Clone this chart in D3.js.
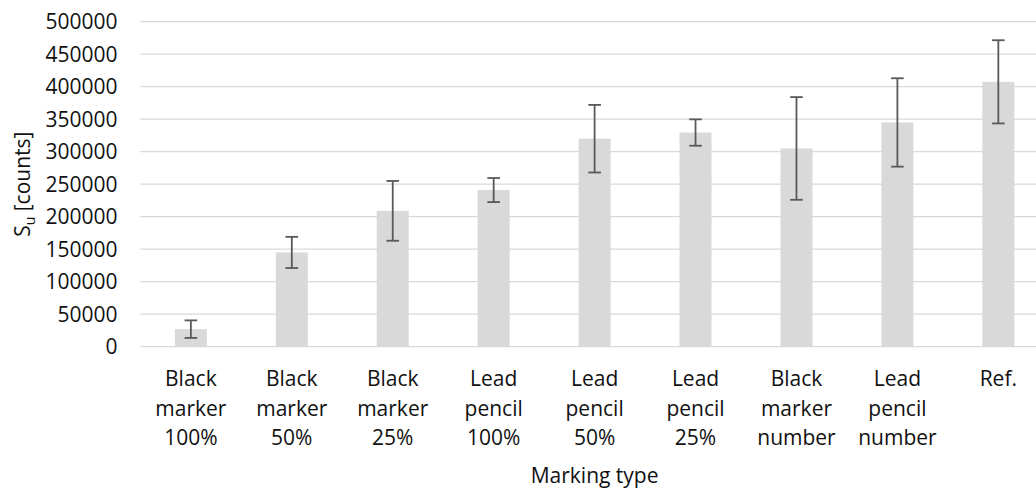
<!DOCTYPE html>
<html>
<head>
<meta charset="utf-8">
<script src="https://cdn.jsdelivr.net/npm/d3@7"></script>
<style>
  html, body { margin: 0; padding: 0; background: #fff; }
  svg { display: block; font-family: "Open Sans", sans-serif; }
</style>
</head>
<body>
<svg id="chart" width="1036" height="488"></svg>
<script>
// Marking types shown along the x axis (each label split into lines)
const categories = [
  "Black marker 100%", "Black marker 50%", "Black marker 25%",
  "Lead pencil 100%", "Lead pencil 50%", "Lead pencil 25%",
  "Black marker number", "Lead pencil number", "Ref."
];
const categoryLines = [
  ["Black", "marker", "100%"], ["Black", "marker", "50%"], ["Black", "marker", "25%"],
  ["Lead", "pencil", "100%"], ["Lead", "pencil", "50%"], ["Lead", "pencil", "25%"],
  ["Black", "marker", "number"], ["Lead", "pencil", "number"], ["Ref."]
];
// Mean signal S_u per marking type [counts]
const meanValues = [27000, 145000, 209000, 241000, 320000, 329500, 305000, 345000, 407500];
// Error (± one standard deviation) per marking type [counts]
const errorValues = [13500, 24000, 46000, 18500, 52000, 20300, 79000, 68000, 64000];
// Y axis tick values
const yTicks = [0, 50000, 100000, 150000, 200000, 250000, 300000, 350000, 400000, 450000, 500000];

const svg = d3.select("#chart");
const W = 1036, H = 488;
const plot = { left: 140.4, right: 1048.8, top: 21.7, bottom: 346.7 };

svg.append("rect").attr("width", W).attr("height", H).attr("fill", "#fff");

const x = d3.scaleBand()
  .domain(categories)
  .range([plot.left, plot.right])
  .paddingInner(0.683)
  .paddingOuter(0.3415);

const y = d3.scaleLinear()
  .domain([0, 500000])
  .range([plot.bottom, plot.top]);

const data = categories.map((c, i) => ({
  cat: c, lines: categoryLines[i], mean: meanValues[i], err: errorValues[i]
}));

// Horizontal gridlines
svg.append("g")
  .selectAll("line")
  .data(yTicks)
  .join("line")
  .attr("x1", plot.left)
  .attr("x2", plot.right)
  .attr("y1", d => y(d))
  .attr("y2", d => y(d))
  .attr("stroke", "#d9d9d9")
  .attr("stroke-width", 1.3);

// Y tick labels
svg.append("g")
  .selectAll("text")
  .data(yTicks)
  .join("text")
  .attr("x", 117.5)
  .attr("y", d => y(d))
  .attr("dy", "0.36em")
  .attr("text-anchor", "end")
  .attr("font-size", 21)
  .attr("fill", "#111")
  .text(d => d);

// Bars
svg.append("g")
  .selectAll("rect")
  .data(data)
  .join("rect")
  .attr("x", d => x(d.cat))
  .attr("width", x.bandwidth())
  .attr("y", d => y(d.mean))
  .attr("height", d => y(0) - y(d.mean))
  .attr("fill", "#d9d9d9");

// Error bars
const capHalf = 6.3;
const eb = svg.append("g")
  .attr("stroke", "#595959")
  .attr("stroke-width", 1.8)
  .selectAll("g")
  .data(data)
  .join("g")
  .attr("transform", d => `translate(${x(d.cat) + x.bandwidth() / 2},0)`);
eb.append("line")
  .attr("y1", d => y(d.mean + d.err))
  .attr("y2", d => y(d.mean - d.err));
eb.append("line")
  .attr("x1", -capHalf).attr("x2", capHalf)
  .attr("y1", d => y(d.mean + d.err))
  .attr("y2", d => y(d.mean + d.err));
eb.append("line")
  .attr("x1", -capHalf).attr("x2", capHalf)
  .attr("y1", d => y(d.mean - d.err))
  .attr("y2", d => y(d.mean - d.err));

// X category labels
const xl = svg.append("g")
  .selectAll("text")
  .data(data)
  .join("text")
  .attr("text-anchor", "middle")
  .attr("font-size", 21)
  .attr("fill", "#111");
xl.selectAll("tspan")
  .data(d => d.lines.map(l => ({ l, cx: x(d.cat) + x.bandwidth() / 2 })))
  .join("tspan")
  .attr("x", d => d.cx)
  .attr("y", (d, i) => 386 + i * 29.5)
  .text(d => d.l);

// X axis title
svg.append("text")
  .attr("x", (plot.left + plot.right) / 2)
  .attr("y", 483)
  .attr("text-anchor", "middle")
  .attr("font-size", 21)
  .attr("fill", "#111")
  .text("Marking type");

// Y axis title with subscript
const yt = svg.append("text")
  .attr("transform", `translate(30,${(plot.top + plot.bottom) / 2}) rotate(-90)`)
  .attr("text-anchor", "middle")
  .attr("font-size", 21)
  .attr("fill", "#111");
yt.append("tspan").text("S");
yt.append("tspan").attr("font-size", 14).attr("dy", 5).text("u");
yt.append("tspan").attr("dy", -5).text(" [counts]");
</script>
</body>
</html>
